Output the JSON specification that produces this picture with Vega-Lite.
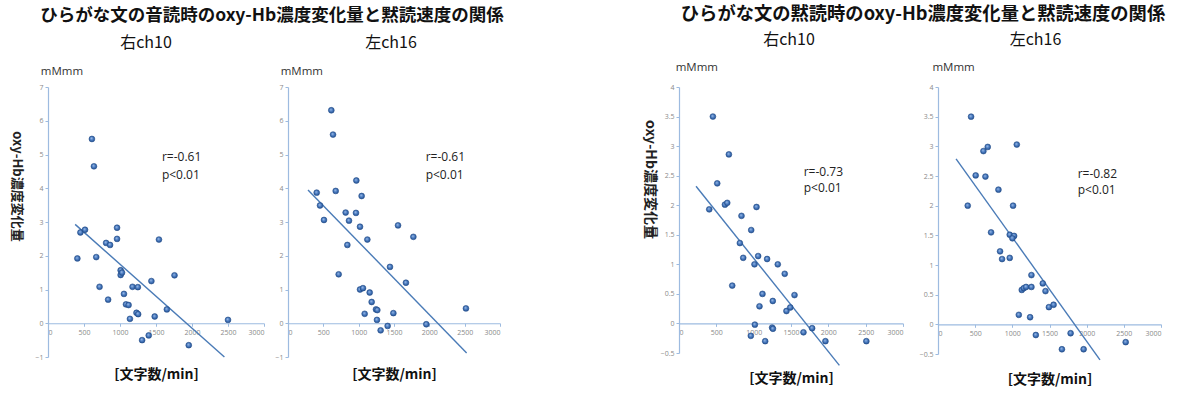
{
  "$schema": "https://vega.github.io/schema/vega-lite/v6.json",
  "background": "white",
  "padding": {"left": 9, "top": 4, "right": 5, "bottom": 5},
  "config": {
    "view": {"stroke": null},
    "font": "Open Sans",
    "axis": {
      "grid": false,
      "domainColor": "#9dbbe0",
      "domainWidth": 1.2,
      "tickColor": "#9dbbe0",
      "tickSize": 3,
      "labelColor": "#8a8a8a",
      "labelFont": "Open Sans",
      "labelFontSize": 7,
      "labelPadding": 2,
      "format": "~r"
    }
  },
  "datasets": {
    "p1": [
      {"kind": "pt", "x": 610, "y": 5.46}, {"kind": "pt", "x": 638, "y": 4.65}, {"kind": "pt", "x": 408, "y": 1.92},
      {"kind": "pt", "x": 450, "y": 2.69}, {"kind": "pt", "x": 514, "y": 2.77}, {"kind": "pt", "x": 670, "y": 1.96},
      {"kind": "pt", "x": 716, "y": 1.08}, {"kind": "pt", "x": 835, "y": 0.70}, {"kind": "pt", "x": 807, "y": 2.38},
      {"kind": "pt", "x": 862, "y": 2.32}, {"kind": "pt", "x": 959, "y": 2.83}, {"kind": "pt", "x": 959, "y": 2.50},
      {"kind": "pt", "x": 1009, "y": 1.57}, {"kind": "pt", "x": 1009, "y": 1.43}, {"kind": "pt", "x": 1028, "y": 1.50},
      {"kind": "pt", "x": 1055, "y": 0.87}, {"kind": "pt", "x": 1083, "y": 0.56}, {"kind": "pt", "x": 1119, "y": 0.54},
      {"kind": "pt", "x": 1138, "y": 0.13}, {"kind": "pt", "x": 1174, "y": 1.08}, {"kind": "pt", "x": 1248, "y": 1.07},
      {"kind": "pt", "x": 1229, "y": 0.31}, {"kind": "pt", "x": 1252, "y": 0.27}, {"kind": "pt", "x": 1307, "y": -0.50},
      {"kind": "pt", "x": 1399, "y": -0.36}, {"kind": "pt", "x": 1436, "y": 1.25}, {"kind": "pt", "x": 1482, "y": 0.20},
      {"kind": "pt", "x": 1541, "y": 2.48}, {"kind": "pt", "x": 1757, "y": 1.42}, {"kind": "pt", "x": 1651, "y": 0.41},
      {"kind": "pt", "x": 1955, "y": -0.65}, {"kind": "pt", "x": 2500, "y": 0.10},
      {"kind": "line", "x": 377, "y": 2.93}, {"kind": "line", "x": 2450, "y": -1.0},
      {"kind": "txt", "x": 1582, "y": 4.93, "label": "r=-0.61"}, {"kind": "txt", "x": 1582, "y": 4.40, "label": "p<0.01"},
      {"kind": "unit", "x": -100, "y": 7.45, "label": "mMmm"}
    ],
    "p2": [
      {"kind": "pt", "x": 613, "y": 6.31}, {"kind": "pt", "x": 637, "y": 5.59}, {"kind": "pt", "x": 406, "y": 3.87},
      {"kind": "pt", "x": 453, "y": 3.49}, {"kind": "pt", "x": 509, "y": 3.06}, {"kind": "pt", "x": 675, "y": 3.92},
      {"kind": "pt", "x": 717, "y": 1.45}, {"kind": "pt", "x": 816, "y": 3.28}, {"kind": "pt", "x": 863, "y": 3.04},
      {"kind": "pt", "x": 840, "y": 2.32}, {"kind": "pt", "x": 967, "y": 4.23}, {"kind": "pt", "x": 962, "y": 3.27},
      {"kind": "pt", "x": 1019, "y": 2.86}, {"kind": "pt", "x": 1042, "y": 3.77}, {"kind": "pt", "x": 1123, "y": 2.48},
      {"kind": "pt", "x": 1019, "y": 1.00}, {"kind": "pt", "x": 1061, "y": 1.04}, {"kind": "pt", "x": 1156, "y": 0.91},
      {"kind": "pt", "x": 1184, "y": 0.63}, {"kind": "pt", "x": 1085, "y": 0.28}, {"kind": "pt", "x": 1245, "y": 0.41},
      {"kind": "pt", "x": 1264, "y": 0.39}, {"kind": "pt", "x": 1259, "y": 0.10}, {"kind": "pt", "x": 1311, "y": -0.21},
      {"kind": "pt", "x": 1410, "y": -0.08}, {"kind": "pt", "x": 1443, "y": 1.67}, {"kind": "pt", "x": 1491, "y": 0.30},
      {"kind": "pt", "x": 1557, "y": 2.90}, {"kind": "pt", "x": 1774, "y": 2.56}, {"kind": "pt", "x": 1669, "y": 1.20},
      {"kind": "pt", "x": 1957, "y": -0.03}, {"kind": "pt", "x": 2518, "y": 0.44},
      {"kind": "line", "x": 283, "y": 3.95}, {"kind": "line", "x": 2528, "y": -0.88},
      {"kind": "txt", "x": 1948, "y": 4.93, "label": "r=-0.61"}, {"kind": "txt", "x": 1948, "y": 4.40, "label": "p<0.01"},
      {"kind": "unit", "x": -103, "y": 7.45, "label": "mMmm"}
    ],
    "p3": [
      {"kind": "pt", "x": 454, "y": 3.50}, {"kind": "pt", "x": 668, "y": 2.86}, {"kind": "pt", "x": 512, "y": 2.37},
      {"kind": "pt", "x": 405, "y": 1.93}, {"kind": "pt", "x": 615, "y": 2.01}, {"kind": "pt", "x": 646, "y": 2.04},
      {"kind": "pt", "x": 837, "y": 1.82}, {"kind": "pt", "x": 967, "y": 1.58}, {"kind": "pt", "x": 1038, "y": 1.97},
      {"kind": "pt", "x": 815, "y": 1.36}, {"kind": "pt", "x": 860, "y": 1.11}, {"kind": "pt", "x": 1060, "y": 1.14},
      {"kind": "pt", "x": 1011, "y": 1.00}, {"kind": "pt", "x": 1180, "y": 1.09}, {"kind": "pt", "x": 1323, "y": 1.00},
      {"kind": "pt", "x": 1416, "y": 0.84}, {"kind": "pt", "x": 713, "y": 0.64}, {"kind": "pt", "x": 1118, "y": 0.50},
      {"kind": "pt", "x": 1078, "y": 0.29}, {"kind": "pt", "x": 1256, "y": 0.38}, {"kind": "pt", "x": 1439, "y": 0.21},
      {"kind": "pt", "x": 1490, "y": 0.27}, {"kind": "pt", "x": 1547, "y": 0.48}, {"kind": "pt", "x": 1016, "y": -0.02},
      {"kind": "pt", "x": 962, "y": -0.21}, {"kind": "pt", "x": 1247, "y": -0.07}, {"kind": "pt", "x": 1258, "y": -0.09},
      {"kind": "pt", "x": 1154, "y": -0.30}, {"kind": "pt", "x": 1667, "y": -0.15}, {"kind": "pt", "x": 1783, "y": -0.08},
      {"kind": "pt", "x": 1961, "y": -0.30}, {"kind": "pt", "x": 2509, "y": -0.30},
      {"kind": "line", "x": 228, "y": 2.32}, {"kind": "line", "x": 2148, "y": -0.71},
      {"kind": "txt", "x": 1670, "y": 2.57, "label": "r=-0.73"}, {"kind": "txt", "x": 1670, "y": 2.29, "label": "p<0.01"},
      {"kind": "unit", "x": -44, "y": 4.32, "label": "mMmm"}
    ],
    "p4": [
      {"kind": "pt", "x": 445, "y": 3.50}, {"kind": "pt", "x": 611, "y": 2.92}, {"kind": "pt", "x": 669, "y": 2.99},
      {"kind": "pt", "x": 1060, "y": 3.03}, {"kind": "pt", "x": 507, "y": 2.51}, {"kind": "pt", "x": 638, "y": 2.49},
      {"kind": "pt", "x": 813, "y": 2.27}, {"kind": "pt", "x": 400, "y": 2.00}, {"kind": "pt", "x": 1010, "y": 2.00},
      {"kind": "pt", "x": 714, "y": 1.55}, {"kind": "pt", "x": 965, "y": 1.51}, {"kind": "pt", "x": 1024, "y": 1.49},
      {"kind": "pt", "x": 1001, "y": 1.45}, {"kind": "pt", "x": 835, "y": 1.23}, {"kind": "pt", "x": 862, "y": 1.10},
      {"kind": "pt", "x": 965, "y": 1.12}, {"kind": "pt", "x": 1257, "y": 0.83}, {"kind": "pt", "x": 1127, "y": 0.58},
      {"kind": "pt", "x": 1154, "y": 0.61}, {"kind": "pt", "x": 1185, "y": 0.63}, {"kind": "pt", "x": 1257, "y": 0.63},
      {"kind": "pt", "x": 1410, "y": 0.69}, {"kind": "pt", "x": 1446, "y": 0.56}, {"kind": "pt", "x": 1492, "y": 0.29},
      {"kind": "pt", "x": 1555, "y": 0.33}, {"kind": "pt", "x": 1087, "y": 0.16}, {"kind": "pt", "x": 1239, "y": 0.12},
      {"kind": "pt", "x": 1316, "y": -0.18}, {"kind": "pt", "x": 1784, "y": -0.15}, {"kind": "pt", "x": 1667, "y": -0.42},
      {"kind": "pt", "x": 1959, "y": -0.42}, {"kind": "pt", "x": 2525, "y": -0.30},
      {"kind": "line", "x": 243, "y": 2.79}, {"kind": "line", "x": 2179, "y": -0.60},
      {"kind": "txt", "x": 1879, "y": 2.54, "label": "r=-0.82"}, {"kind": "txt", "x": 1879, "y": 2.26, "label": "p<0.01"},
      {"kind": "unit", "x": -75, "y": 4.32, "label": "mMmm"}
    ]
  },
  "bounds": "flush",
  "spacing": 631,
  "hconcat": [
    {
      "title": {"text": "ひらがな文の音読時のoxy-Hb濃度変化量と黙読速度の関係", "font": "Noto Sans CJK JP", "fontSize": 17.5, "fontWeight": "bold", "color": "#111111", "anchor": "middle", "offset": 10, "dx": 17},
      "bounds": "flush",
      "spacing": 24,
      "hconcat": [
        {
          "width": 216, "height": 270,
          "title": {"text": "右ch10", "font": "Noto Sans CJK JP", "fontSize": 16, "fontWeight": "normal", "color": "#111111", "anchor": "middle", "offset": 15, "dx": -10},
          "data": {"name": "p1"},
          "encoding": {
            "x": {"field": "x", "type": "quantitative", "scale": {"domain": [0, 3000], "nice": false, "zero": false},
              "axis": {"values": [0, 500, 1000, 1500, 2000, 2500, 3000], "offset": -33.75, "title": "[文字数/min]", "titleFont": "Noto Sans CJK JP", "titleFontSize": 14, "titleFontWeight": "bold", "titleColor": "#111111", "titleY": 51, "titleBaseline": "middle"}},
            "y": {"field": "y", "type": "quantitative", "scale": {"domain": [-1, 7], "nice": false, "zero": false},
              "axis": {"values": [-1, 0, 1, 2, 3, 4, 5, 6, 7], "title": "oxy-Hb濃度変化量", "titleFont": "Noto Sans CJK JP", "titleFontSize": 13, "titleFontWeight": "bold", "titleColor": "#222222", "titleAngle": 90, "titleX": -31.5, "titleY": 99, "titleAlign": "center", "titleBaseline": "middle"}}
          },
          "layer": [
            {"transform": [{"filter": "datum.kind == 'line'"}], "mark": {"type": "line", "color": "#4a7bb7", "strokeWidth": 1.4}},
            {"transform": [{"filter": "datum.kind == 'pt'"}], "mark": {"type": "point", "filled": true, "size": 34, "opacity": 1, "strokeWidth": 0.6, "stroke": "#254f8c",
              "fill": {"gradient": "radial", "x1": 0.4, "y1": 0.35, "r1": 0, "x2": 0.5, "y2": 0.5, "r2": 0.55, "stops": [{"offset": 0, "color": "#a9c4ea"}, {"offset": 0.5, "color": "#4a7cc2"}, {"offset": 1, "color": "#214c8a"}]}}},
            {"transform": [{"filter": "datum.kind == 'txt'"}], "mark": {"type": "text", "align": "left", "baseline": "middle", "font": "Open Sans", "fontSize": 12, "color": "#222222"}, "encoding": {"text": {"field": "label"}}},
            {"transform": [{"filter": "datum.kind == 'unit'"}], "mark": {"type": "text", "align": "left", "baseline": "middle", "font": "Open Sans", "fontSize": 11.5, "color": "#333333"}, "encoding": {"text": {"field": "label"}}}
          ]
        },
        {
          "width": 212, "height": 270,
          "title": {"text": "左ch16", "font": "Noto Sans CJK JP", "fontSize": 16, "fontWeight": "normal", "color": "#111111", "anchor": "middle", "offset": 15, "dx": -3},
          "data": {"name": "p2"},
          "encoding": {
            "x": {"field": "x", "type": "quantitative", "scale": {"domain": [0, 3000], "nice": false, "zero": false},
              "axis": {"values": [0, 500, 1000, 1500, 2000, 2500, 3000], "offset": -33.75, "title": "[文字数/min]", "titleFont": "Noto Sans CJK JP", "titleFontSize": 14, "titleFontWeight": "bold", "titleColor": "#111111", "titleY": 51, "titleBaseline": "middle"}},
            "y": {"field": "y", "type": "quantitative", "scale": {"domain": [-1, 7], "nice": false, "zero": false},
              "axis": {"values": [-1, 0, 1, 2, 3, 4, 5, 6, 7], "title": null}}
          },
          "layer": [
            {"transform": [{"filter": "datum.kind == 'line'"}], "mark": {"type": "line", "color": "#4a7bb7", "strokeWidth": 1.4}},
            {"transform": [{"filter": "datum.kind == 'pt'"}], "mark": {"type": "point", "filled": true, "size": 34, "opacity": 1, "strokeWidth": 0.6, "stroke": "#254f8c",
              "fill": {"gradient": "radial", "x1": 0.4, "y1": 0.35, "r1": 0, "x2": 0.5, "y2": 0.5, "r2": 0.55, "stops": [{"offset": 0, "color": "#a9c4ea"}, {"offset": 0.5, "color": "#4a7cc2"}, {"offset": 1, "color": "#214c8a"}]}}},
            {"transform": [{"filter": "datum.kind == 'txt'"}], "mark": {"type": "text", "align": "left", "baseline": "middle", "font": "Open Sans", "fontSize": 12, "color": "#222222"}, "encoding": {"text": {"field": "label"}}},
            {"transform": [{"filter": "datum.kind == 'unit'"}], "mark": {"type": "text", "align": "left", "baseline": "middle", "font": "Open Sans", "fontSize": 11.5, "color": "#333333"}, "encoding": {"text": {"field": "label"}}}
          ]
        }
      ]
    },
    {
      "title": {"text": "ひらがな文の黙読時のoxy-Hb濃度変化量と黙読速度の関係", "font": "Noto Sans CJK JP", "fontSize": 18.3, "fontWeight": "bold", "color": "#111111", "anchor": "middle", "offset": 8, "dx": 21},
      "bounds": "flush",
      "spacing": 35,
      "hconcat": [
        {
          "width": 224, "height": 266,
          "title": {"text": "右ch10", "font": "Noto Sans CJK JP", "fontSize": 16, "fontWeight": "normal", "color": "#111111", "anchor": "middle", "offset": 14, "dx": -2},
          "data": {"name": "p3"},
          "encoding": {
            "x": {"field": "x", "type": "quantitative", "scale": {"domain": [0, 3000], "nice": false, "zero": false},
              "axis": {"values": [0, 500, 1000, 1500, 2000, 2500, 3000], "offset": -29.6, "title": "[文字数/min]", "titleFont": "Noto Sans CJK JP", "titleFontSize": 14, "titleFontWeight": "bold", "titleColor": "#111111", "titleY": 55, "titleBaseline": "middle"}},
            "y": {"field": "y", "type": "quantitative", "scale": {"domain": [-0.5, 4], "nice": false, "zero": false},
              "axis": {"values": [-0.5, 0, 0.5, 1, 1.5, 2, 2.5, 3, 3.5, 4], "title": "oxy-Hb濃度変化量", "titleFont": "Noto Sans CJK JP", "titleFontSize": 14, "titleFontWeight": "bold", "titleColor": "#222222", "titleAngle": 90, "titleX": -29.5, "titleY": 92, "titleAlign": "center", "titleBaseline": "middle"}}
          },
          "layer": [
            {"transform": [{"filter": "datum.kind == 'line'"}], "mark": {"type": "line", "color": "#4a7bb7", "strokeWidth": 1.4}},
            {"transform": [{"filter": "datum.kind == 'pt'"}], "mark": {"type": "point", "filled": true, "size": 34, "opacity": 1, "strokeWidth": 0.6, "stroke": "#254f8c",
              "fill": {"gradient": "radial", "x1": 0.4, "y1": 0.35, "r1": 0, "x2": 0.5, "y2": 0.5, "r2": 0.55, "stops": [{"offset": 0, "color": "#a9c4ea"}, {"offset": 0.5, "color": "#4a7cc2"}, {"offset": 1, "color": "#214c8a"}]}}},
            {"transform": [{"filter": "datum.kind == 'txt'"}], "mark": {"type": "text", "align": "left", "baseline": "middle", "font": "Open Sans", "fontSize": 12, "color": "#222222"}, "encoding": {"text": {"field": "label"}}},
            {"transform": [{"filter": "datum.kind == 'unit'"}], "mark": {"type": "text", "align": "left", "baseline": "middle", "font": "Open Sans", "fontSize": 11.5, "color": "#333333"}, "encoding": {"text": {"field": "label"}}}
          ]
        },
        {
          "width": 223, "height": 267,
          "title": {"text": "左ch16", "font": "Noto Sans CJK JP", "fontSize": 16, "fontWeight": "normal", "color": "#111111", "anchor": "middle", "offset": 14, "dx": -14},
          "data": {"name": "p4"},
          "encoding": {
            "x": {"field": "x", "type": "quantitative", "scale": {"domain": [0, 3000], "nice": false, "zero": false},
              "axis": {"values": [0, 500, 1000, 1500, 2000, 2500, 3000], "offset": -29.7, "title": "[文字数/min]", "titleFont": "Noto Sans CJK JP", "titleFontSize": 14, "titleFontWeight": "bold", "titleColor": "#111111", "titleY": 55, "titleBaseline": "middle"}},
            "y": {"field": "y", "type": "quantitative", "scale": {"domain": [-0.5, 4], "nice": false, "zero": false},
              "axis": {"values": [-0.5, 0, 0.5, 1, 1.5, 2, 2.5, 3, 3.5, 4], "title": null}}
          },
          "layer": [
            {"transform": [{"filter": "datum.kind == 'line'"}], "mark": {"type": "line", "color": "#4a7bb7", "strokeWidth": 1.4}},
            {"transform": [{"filter": "datum.kind == 'pt'"}], "mark": {"type": "point", "filled": true, "size": 34, "opacity": 1, "strokeWidth": 0.6, "stroke": "#254f8c",
              "fill": {"gradient": "radial", "x1": 0.4, "y1": 0.35, "r1": 0, "x2": 0.5, "y2": 0.5, "r2": 0.55, "stops": [{"offset": 0, "color": "#a9c4ea"}, {"offset": 0.5, "color": "#4a7cc2"}, {"offset": 1, "color": "#214c8a"}]}}},
            {"transform": [{"filter": "datum.kind == 'txt'"}], "mark": {"type": "text", "align": "left", "baseline": "middle", "font": "Open Sans", "fontSize": 12, "color": "#222222"}, "encoding": {"text": {"field": "label"}}},
            {"transform": [{"filter": "datum.kind == 'unit'"}], "mark": {"type": "text", "align": "left", "baseline": "middle", "font": "Open Sans", "fontSize": 11.5, "color": "#333333"}, "encoding": {"text": {"field": "label"}}}
          ]
        }
      ]
    }
  ]
}
